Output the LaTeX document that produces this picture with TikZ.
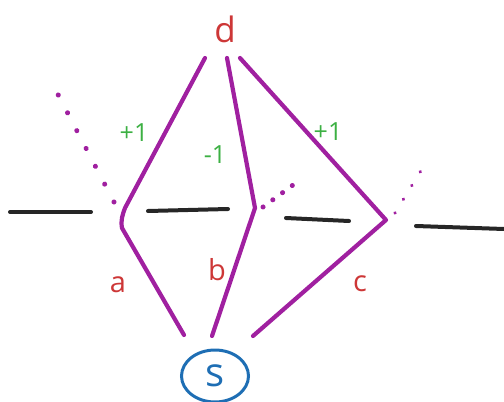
\documentclass[tikz,border=0pt]{standalone}
\usepackage{fontspec}
\setmainfont{Open Sans}
\usetikzlibrary{shapes.geometric}
\definecolor{mag}{RGB}{160,32,160}
\definecolor{grn}{RGB}{60,176,67}
\definecolor{lbl}{RGB}{205,55,55}
\definecolor{blu}{RGB}{30,110,180}
\begin{document}
\begin{tikzpicture}[x=1pt,y=-1pt,
  edge/.style={mag,line width=4.2pt,line cap=round,line join=round},
  blk/.style={black!85,line width=4pt,line cap=round},
  dotline/.style={mag,line width=5pt,line cap=round,dash pattern=on 0.1pt off 20pt},
  wt/.style={grn,font=\fontsize{25}{25}\selectfont},
  lab/.style={lbl,font=\fontsize{29}{29}\selectfont}]
\useasboundingbox (0,0) rectangle (504,402);
% nodes
\node[lab,font=\fontsize{35}{35}\selectfont] (d) at (225,29) {d};
\node[draw=blu,line width=3pt,ellipse,minimum width=67pt,minimum height=52pt,inner sep=0pt,blu,font=\fontsize{40}{40}\selectfont] (s) at (215,376) {s};
% anchors
\coordinate (da) at (205,58);
\coordinate (db) at (227,58);
\coordinate (dc) at (240,58);
\coordinate (ka1) at (125,208);
\coordinate (ka2) at (122,228);
\coordinate (kb) at (255,208);
\coordinate (kc) at (386,220);
\coordinate (sa) at (184,335);
\coordinate (sb) at (212,336);
\coordinate (sc) at (253,336);
% purple paths
\draw[edge] (da) -- (ka1) to[out=-110,in=100] (ka2) -- (sa);
\draw[edge] (db) -- (kb) -- (sb);
\draw[edge] (dc) -- (kc) -- (sc);
% black segments
\coordinate (h1a) at (10,212); \coordinate (h1b) at (91,212);
\coordinate (h2a) at (148,211); \coordinate (h2b) at (228,209);
\coordinate (h3a) at (286,218); \coordinate (h3b) at (349,221);
\coordinate (h4a) at (416,226); \coordinate (h4b) at (504,229);
\draw[blk] (h1a) -- (h1b);
\draw[blk] (h2a) -- (h2b);
\draw[blk] (h3a) -- (h3b);
\draw[blk] (h4a) -- (h4b);
% dotted continuations
\coordinate (p1a) at (114,202); \coordinate (p1b) at (52,83);
\coordinate (p2a) at (263,207); \coordinate (p2b) at (293,185);
\coordinate (p3a) at (395,213); \coordinate (p3b) at (425,164);
\draw[dotline] (p1a) -- (p1b);
\draw[dotline,dash pattern=on 0.1pt off 12pt] (p2a) -- (p2b);
\draw[dotline,line width=3.5pt,dash pattern=on 0.1pt off 16pt] (p3a) -- (p3b);
% labels
\node[wt] (w1) at (134,133) {+1};
\node[wt] (w2) at (215,155) {-1};
\node[wt] (w3) at (328,132) {+1};
\node[lab] (la) at (118,285) {a};
\node[lab] (lb) at (217,270) {b};
\node[lab] (lc) at (360,284) {c};
\end{tikzpicture}
\end{document}
